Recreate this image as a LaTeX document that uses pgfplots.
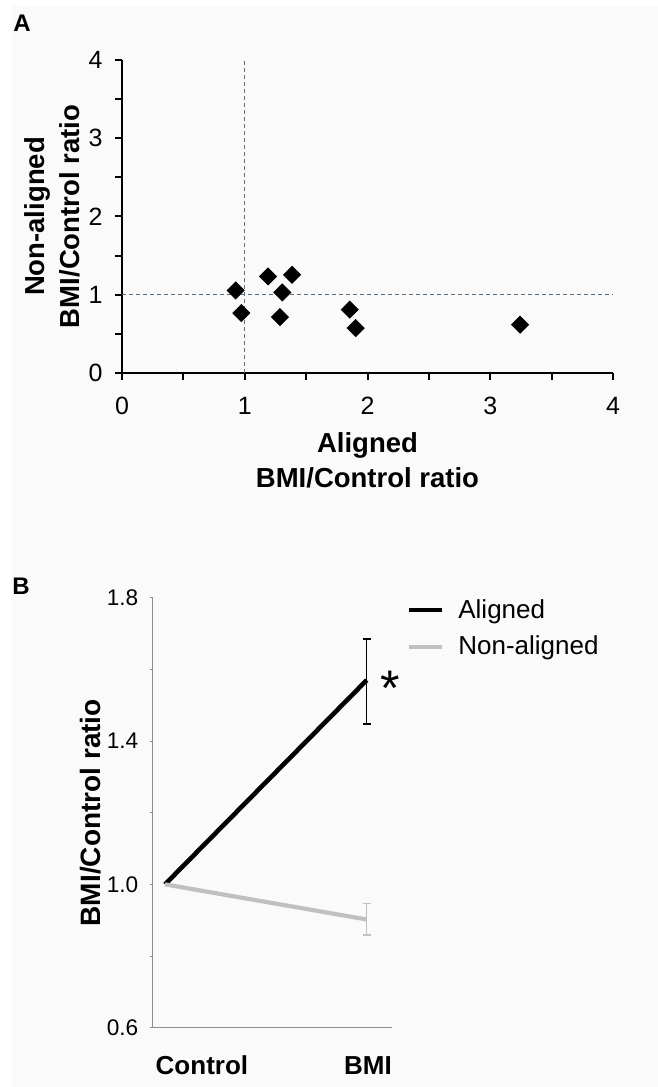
\documentclass[border=0pt]{standalone}
\usepackage{fontspec}
\setmainfont{Liberation Sans}
\usepackage{pgfplots}
\pgfplotsset{compat=1.18}
\definecolor{dashc}{HTML}{5A7080}
\definecolor{lgray}{HTML}{C0C0C0}
\definecolor{axgray}{HTML}{8C8C8C}
\definecolor{bg}{HTML}{FAFAFA}
\begin{document}
\begin{tikzpicture}[x=1pt,y=1pt]
\path[use as bounding box] (0,0) rectangle (329,543.5);
\fill[bg] (6,0) rectangle (329,540.5);
\node[font=\fontsize{12}{14}\selectfont\bfseries] at (11,532) {A};
\node[font=\fontsize{12}{14}\selectfont\bfseries] at (10.5,250.5) {B};

% Panel A
\begin{axis}[
  at={(61pt,357pt)}, anchor=south west,
  scale only axis, width=245.5pt, height=156.5pt,
  xmin=0, xmax=4, ymin=0, ymax=4,
  axis x line*=bottom, axis y line*=left,
  axis line style={black, line width=1pt, -},
  xtick={0,1,2,3,4}, minor xtick={0.5,1.5,2.5,3.5},
  ytick={0,1,2,3,4}, minor ytick={0.5,1.5,2.5,3.5},
  tick align=outside, major tick length=3.5pt, minor tick length=3.5pt,
  every tick/.style={black, line width=1pt},
  /pgf/number format/assume math mode=true,
  tick label style={font=\fontsize{12.5}{14}\selectfont},
  xticklabel style={anchor=base, inner sep=0pt, yshift=-17.5pt},
  yticklabel style={anchor=east, inner sep=0pt, xshift=-6pt},
  xlabel={Aligned\\BMI/Control ratio},
  ylabel={Non-aligned\\BMI/Control ratio},
  every axis x label/.style={at={(axis description cs:0.5,-0.2796)}, anchor=center,
    font=\fontsize{13.75}{17.5}\selectfont\bfseries, align=center},
  every axis y label/.style={at={(axis description cs:-0.1415,0.5)}, rotate=90, anchor=center,
    font=\fontsize{13.75}{17.5}\selectfont\bfseries, align=center},
  clip=false,
]
\addplot[dashc, line width=0.6pt, dash pattern=on 2pt off 1.5pt] coordinates {(1,0) (1,4)};
\addplot[dashc, line width=0.6pt, dash pattern=on 2pt off 1.5pt] coordinates {(0,1) (4,1)};
\addplot[only marks, mark=square*, mark size=3pt, mark options={rotate=45, fill=black, draw=black}]
  coordinates {
  (0.926,1.055) (0.972,0.766) (1.190,1.234) (1.385,1.255) (1.306,1.030)
  (1.287,0.715) (1.855,0.810) (1.904,0.574) (3.243,0.617)
  };
\end{axis}

% Panel B
\begin{axis}[
  at={(76.35pt,29.65pt)}, anchor=south west,
  scale only axis, width=119.65pt, height=215pt,
  xmin=-0.061, xmax=1.125, ymin=0.6, ymax=1.8,
  axis x line*=bottom, axis y line*=left,
  axis line style={axgray, line width=0.5pt, -},
  xtick={0.183,1.006}, xticklabels={Control,BMI},
  ytick={0.6,1.0,1.4,1.8}, minor ytick={0.8,1.2,1.6},
  tick align=outside, major tick length=1.5pt, minor tick length=1.5pt,
  every tick/.style={axgray, line width=0.5pt},
  xtick style={draw=none},
  /pgf/number format/assume math mode=true,
  yticklabel style={font=\fontsize{11.3}{13}\selectfont, anchor=east, inner sep=0pt, xshift=-5.5pt,
    /pgf/number format/fixed, /pgf/number format/fixed zerofill, /pgf/number format/precision=1},
  xticklabel style={font=\fontsize{13}{15}\selectfont\bfseries, anchor=base, inner sep=0pt, yshift=-22pt},
  ylabel={BMI/Control ratio},
  every axis y label/.style={at={(axis description cs:-0.258,0.5)}, rotate=90, anchor=center,
    font=\fontsize{14}{17}\selectfont\bfseries},
  legend style={at={(axis description cs:1.035,1.016)}, anchor=north west, draw=none, fill=none,
    font=\fontsize{13}{15}\selectfont, row sep=3.5pt,
    /tikz/every odd column/.append style={column sep=5pt}},
  legend cell align=left,
  legend image code/.code={\draw[#1] (0pt,0pt) -- (16.5pt,0pt);},
  clip=false,
]
\addplot[black, line width=2.3pt] coordinates {(0,1) (1,1.570)};
\addlegendentry{Aligned}
\addplot[lgray, line width=2.1pt] coordinates {(0,1) (1,0.902)};
\addlegendentry{Non-aligned}
\addplot[forget plot, black, line width=0.7pt,
  error bars/.cd, y dir=both, y explicit, error mark=-,
  error mark options={rotate=90, black, line width=0.7pt, mark size=2pt}]
  coordinates {(1,1.570) += (0,0.115) -= (0,0.123)};
\addplot[forget plot, lgray, line width=0.7pt,
  error bars/.cd, y dir=both, y explicit, error mark=-,
  error mark options={rotate=90, lgray, line width=0.7pt, mark size=2pt}]
  coordinates {(1,0.902) += (0,0.045) -= (0,0.043)};
\node[font=\fontsize{25}{25}\selectfont, anchor=base] at (axis cs:1.115,1.50) {*};
\end{axis}
\end{tikzpicture}
\end{document}
